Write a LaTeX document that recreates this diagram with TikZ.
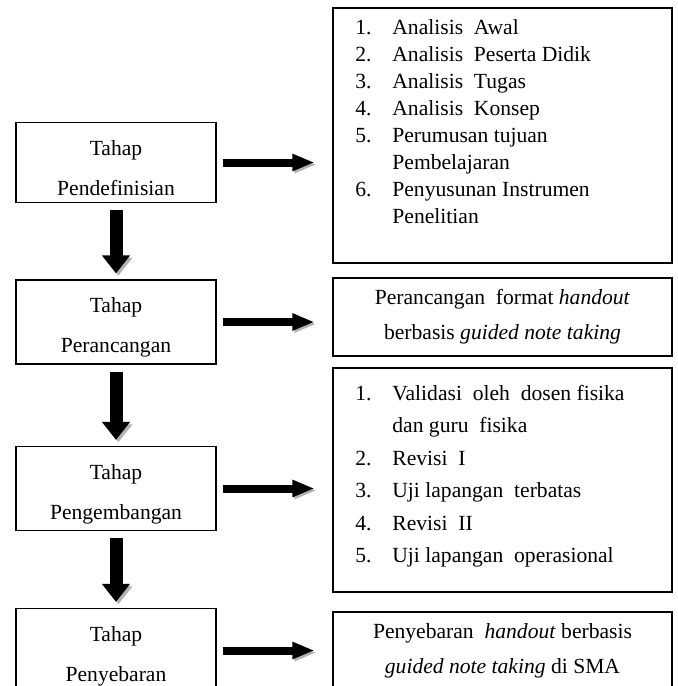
\documentclass[tikz,border=0pt]{standalone}
\usepackage{fontspec}
\setmainfont{Liberation Serif}
\usetikzlibrary{arrows.meta}
\tikzstyle{stage}=[draw, line width=.6pt, minimum width=100pt, minimum height=38.5pt, align=center, font=\fontsize{10.8}{20}\selectfont]
\tikzstyle{outbox}=[draw, line width=.6pt, minimum width=169.5pt]
\tikzstyle{outtext}=[inner sep=0pt, anchor=base west]
\tikzstyle{downarrow}=[line width=6.5pt, -{Triangle[width=13.5pt,length=9pt]}, shorten <=3.5pt, shorten >=3pt, preaction={draw=black!30, transform canvas={shift={(1.2pt,-1.2pt)}}}]
\tikzstyle{rightarrow}=[line width=4pt, -{Triangle[width=8pt,length=11pt]}, shorten <=3pt, shorten >=9pt, preaction={draw=black!30, transform canvas={shift={(1pt,-1pt)}}}]
\newcommand{\tahap}[1]{\rule{0pt}{13pt}Tahap\\ #1}

\begin{document}
\begin{tikzpicture}[x=.5pt, y=-.5pt]
  \clip (0,0) rectangle (678,686);
  \fill[white] (0,0) rectangle (678,686);

  \node[stage] (p1) at (116,162.5) {\tahap{Pendefinisian}};
  \node[stage] (p2) at (116,322) {\tahap{Perancangan}};
  \node[stage] (p3) at (116,488.5) {\tahap{Pengembangan}};
  \node[stage] (p4) at (116,650.5) {\tahap{Penyebaran}};

  \node[outbox, minimum height=127.5pt] (r1) at (502.5,135.5) {};
  \node[outtext, font=\fontsize{10.8}{13.5}\selectfont] (r1list) at (355,34)
    {\begin{tabular}[t]{@{}p{18.5pt}@{}l@{}}
      1. & Analisis \ Awal\\
      2. & Analisis \ Peserta Didik\\
      3. & Analisis \ Tugas\\
      4. & Analisis \ Konsep\\
      5. & Perumusan tujuan\\
         & Pembelajaran\\
      6. & Penyusunan Instrumen\\
         & Penelitian
    \end{tabular}};

  \node[outbox, minimum height=39pt, align=center, font=\fontsize{10.8}{17.5}\selectfont] (r2) at (502.5,317)
    {Perancangan \ format \textit{handout}\\ berbasis \textit{guided note taking}};

  \node[outbox, minimum height=112pt] (r3) at (502.5,480) {};
  \node[outtext, font=\fontsize{10.8}{16.25}\selectfont] (r3list) at (355,400)
    {\begin{tabular}[t]{@{}p{18.5pt}@{}l@{}}
      1. & Validasi \ oleh \ dosen fisika\\
         & dan guru \ fisika\\
      2. & Revisi \ I\\
      3. & Uji lapangan \ terbatas\\
      4. & Revisi \ II\\
      5. & Uji lapangan \ operasional
    \end{tabular}};

  \node[outbox, minimum height=39pt, align=center, font=\fontsize{10.8}{17.5}\selectfont] (r4) at (502.5,651)
    {Penyebaran \ \textit{handout} berbasis\\ \textit{guided note taking} di SMA};

  \foreach \a/\b in {p1/p2, p2/p3, p3/p4}
    \draw[downarrow] (\a) -- (\b);
  \foreach \a/\b in {p1/r1, p2/r2, p3/r3, p4/r4}
    \draw[rightarrow] (\a.east) -- (\a.east -| \b.west);
\end{tikzpicture}
\end{document}
